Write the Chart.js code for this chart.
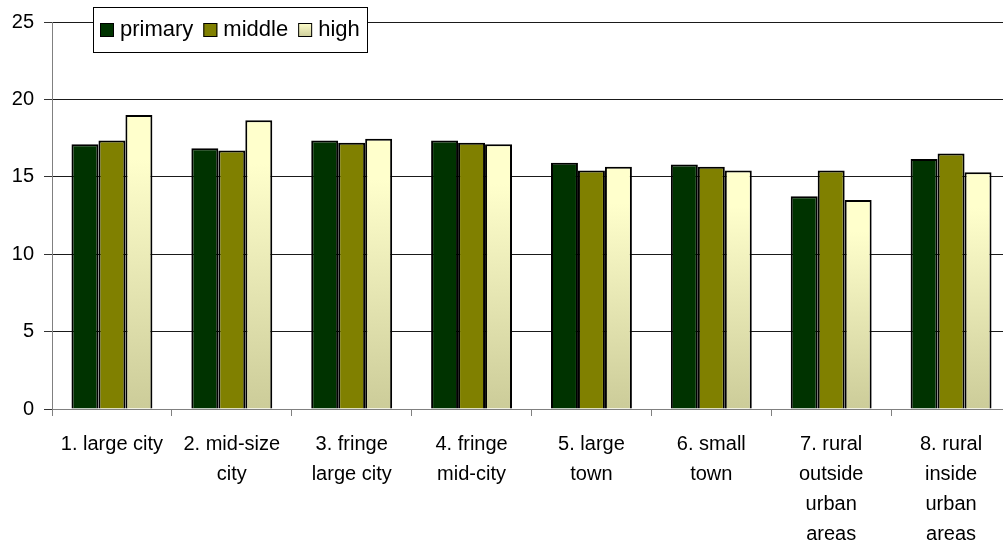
<!DOCTYPE html>
<html>
<head>
<meta charset="utf-8">
<script src="https://cdn.jsdelivr.net/npm/chart.js@4.4.1/dist/chart.umd.min.js"></script>
<style>
    html, body { margin: 0; padding: 0; background: #fff; overflow: hidden; }
    #wrap { position: relative; width: 1012px; height: 546px; }
</style>
</head>
<body>
<div id="wrap"><canvas id="schoolChart"></canvas></div>
<script>
const categories = [
    ['1. large city'],
    ['2. mid-size', 'city'],
    ['3. fringe', 'large city'],
    ['4. fringe', 'mid-city'],
    ['5. large', 'town'],
    ['6. small', 'town'],
    ['7. rural', 'outside', 'urban', 'areas'],
    ['8. rural', 'inside', 'urban', 'areas']
];
const seriesNames = ['primary', 'middle', 'high'];
const primaryData = [17.1, 16.85, 17.35, 17.35, 15.9, 15.8, 13.75, 16.15];
const middleData = [17.35, 16.7, 17.2, 17.2, 15.4, 15.65, 15.4, 16.5];
const highData = [19.0, 18.65, 17.45, 17.1, 15.65, 15.4, 13.5, 15.3];
const yTicks = [0, 5, 10, 15, 20, 25];

const fontFamily = '"Liberation Sans", Arial, sans-serif';

function highFill(context) {
    const chart = context.chart;
    if (!chart.chartArea || context.type !== 'data') return '#FFFFCC';
    const y = chart.scales.y;
    const top = y.getPixelForValue(context.raw);
    const bottom = y.getPixelForValue(0);
    const g = chart.ctx.createLinearGradient(0, top, 0, bottom);
    g.addColorStop(0, '#FFFFCC');
    g.addColorStop(0.15, '#FFFFCC');
    g.addColorStop(1, '#CCCC99');
    return g;
}

// legend box drawn inside the plot, like the original
const boxLegend = {
    id: 'boxLegend',
    afterDraw(chart) {
        const c = chart.ctx;
        c.save();
        c.fillStyle = '#fff';
        c.fillRect(93, 7, 274, 45);
        c.strokeStyle = '#000';
        c.lineWidth = 1;
        c.strokeRect(93.5, 7.5, 274, 45);
        c.font = '22px ' + fontFamily;
        c.textBaseline = 'alphabetic';
        let x = 100;
        chart.data.datasets.forEach(function(ds, i) {
            if (i === 2) {
                const g = c.createLinearGradient(0, 23, 0, 37);
                g.addColorStop(0, '#FFFFCC');
                g.addColorStop(1, '#CCCC99');
                c.fillStyle = g;
            } else {
                c.fillStyle = ds.backgroundColor;
            }
            c.fillRect(x, 23, 14, 14);
            c.strokeStyle = '#000';
            c.strokeRect(x + 0.5, 23.5, 13, 13);
            c.fillStyle = '#000';
            c.fillText(ds.label, x + 20, 36);
            x += 20 + c.measureText(ds.label).width + 10;
        });
        c.restore();
    }
};

const ctx = document.getElementById('schoolChart').getContext('2d');
new Chart(ctx, {
    type: 'bar',
    data: {
        labels: categories,
        datasets: [
            {
                label: seriesNames[0],
                data: primaryData,
                backgroundColor: '#003300',
                borderColor: '#000',
                borderWidth: 2
            },
            {
                label: seriesNames[1],
                data: middleData,
                backgroundColor: '#808000',
                borderColor: '#000',
                borderWidth: 2
            },
            {
                label: seriesNames[2],
                data: highData,
                backgroundColor: highFill,
                borderColor: '#000',
                borderWidth: 2
            }
        ]
    },
    options: {
        responsive: true,
        maintainAspectRatio: false,
        animation: false,
        layout: {
            padding: { top: 21, right: 1, left: 0, bottom: 0 }
        },
        plugins: {
            legend: { display: false },
            tooltip: { enabled: false }
        },
        datasets: {
            bar: {
                categoryPercentage: 0.675,
                barPercentage: 1
            }
        },
        scales: {
            x: {
                grid: {
                    offset: true,
                    drawOnChartArea: false,
                    drawTicks: true,
                    tickLength: 7,
                    color: '#808080'
                },
                border: { color: '#808080' },
                ticks: {
                    color: '#000',
                    autoSkip: false,
                    maxRotation: 0,
                    padding: 13,
                    font: { family: fontFamily, size: 20, lineHeight: 1.5 }
                },
                afterFit: function(scale) { scale.height = 137; }
            },
            y: {
                min: 0,
                max: 25,
                afterBuildTicks: function(scale) {
                    scale.ticks = yTicks.map(function(v) { return { value: v }; });
                },
                grid: {
                    color: '#1a1a1a',
                    tickLength: 8,
                    tickColor: '#333'
                },
                border: { color: '#808080' },
                ticks: {
                    color: '#000',
                    padding: 10,
                    font: { family: fontFamily, size: 20 }
                },
                afterFit: function(scale) { scale.width = 52; }
            }
        }
    },
    plugins: [boxLegend]
});
</script>
</body>
</html>
